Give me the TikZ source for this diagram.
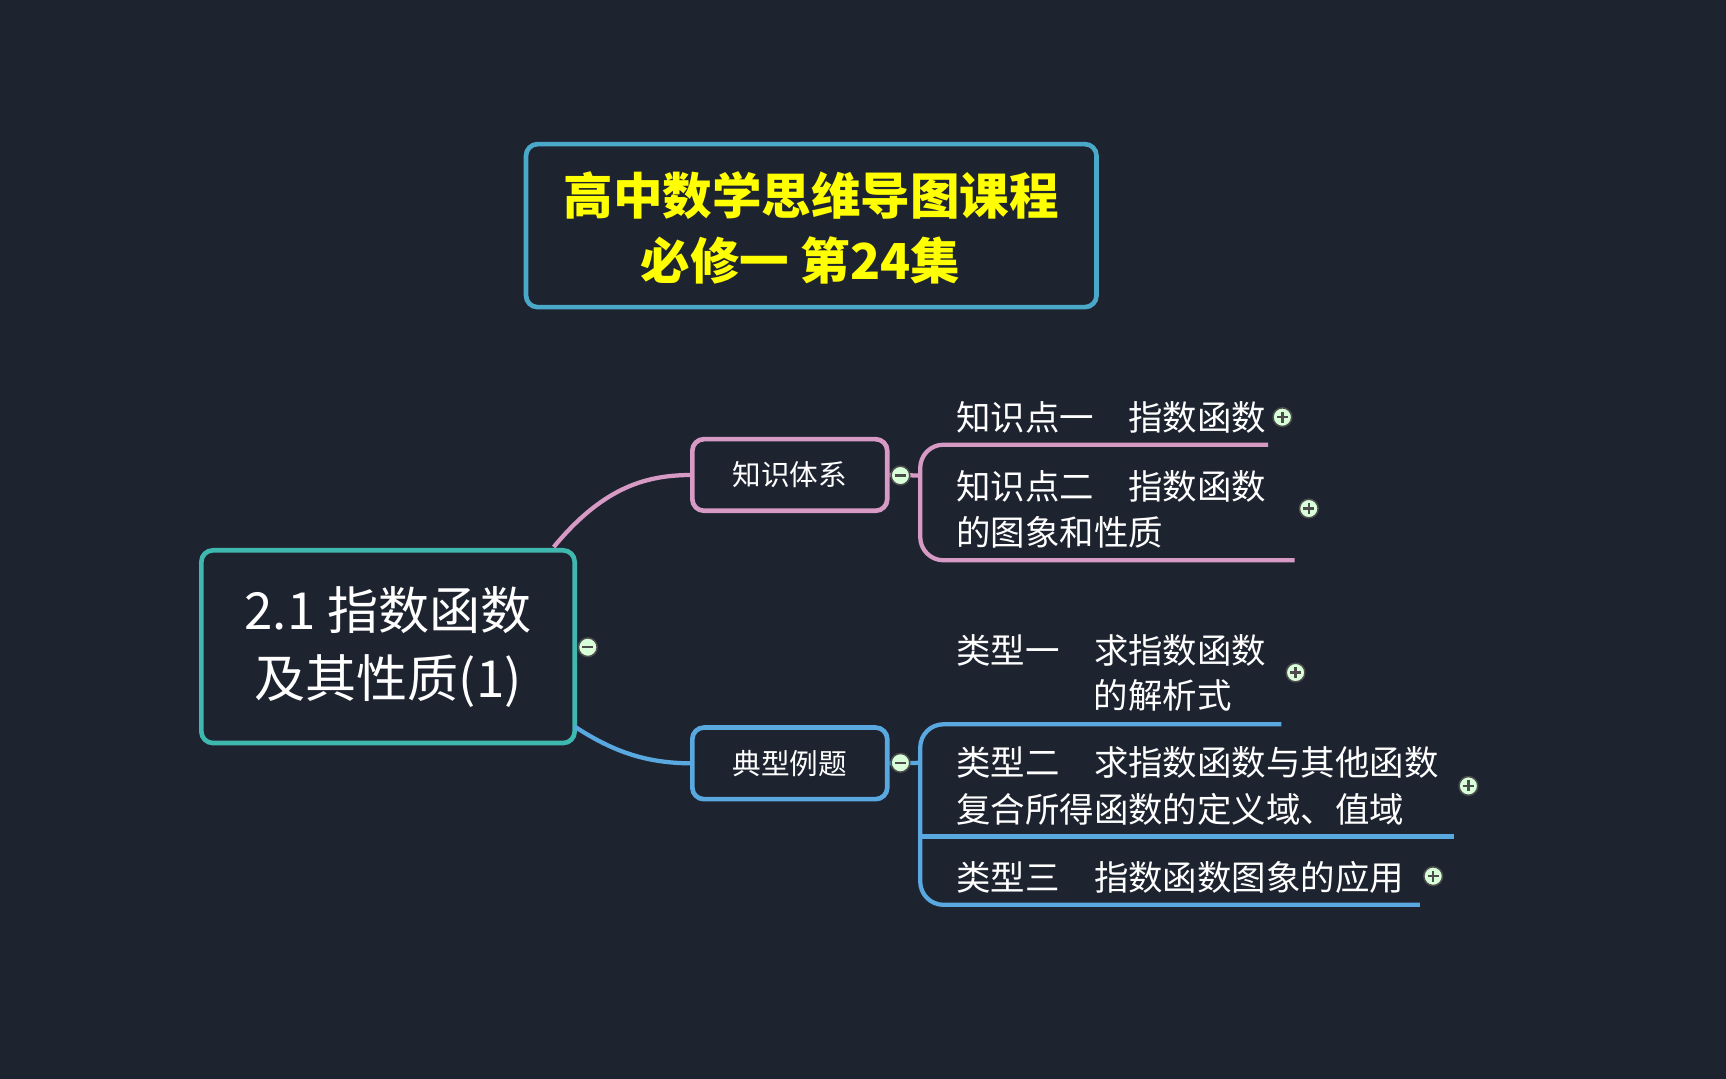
\documentclass[tikz,border=0pt]{standalone}
\usepackage{fontspec}
\setmainfont{Noto Sans CJK SC}
\begin{document}
\begin{tikzpicture}[x=0.01cm,y=-0.01cm,
  box/.style={draw,line width=1.2pt,rounded corners=3pt,inner sep=0pt},
  leaf/.style={text=white,font=\fontsize{8.9pt}{12pt}\selectfont,anchor=west,inner sep=0pt,align=left},
  tog/.style={circle,draw=black!70,fill=green!15!white,minimum size=0.17cm,inner sep=0pt,line width=0.4pt},
  pk/.style={draw=pinkc,line width=1.1pt,rounded corners=6pt},
  bl/.style={draw=bluec,line width=1.1pt,rounded corners=6pt}]
\definecolor{bg}{HTML}{1E2330}
\definecolor{cyanc}{HTML}{4AA8C8}
\definecolor{tealc}{HTML}{3FB8B0}
\definecolor{pinkc}{HTML}{D79AC4}
\definecolor{bluec}{HTML}{5AA8E0}
\definecolor{ttl}{HTML}{FFFF00}
\fill[bg] (0,0) rectangle (1568,980);
\useasboundingbox (0,0) rectangle (1568,980);
% title
\node[box,draw=cyanc,minimum width=5.18cm,minimum height=1.48cm] (title) at (737,205) {};
\node[text=ttl,font=\bfseries\fontsize{12.8pt}{17pt}\selectfont] (t1) at (737,178) {高中数学思维导图课程};
\node[text=ttl,font=\bfseries\fontsize{12.8pt}{17pt}\selectfont] (t2) at (727,237) {必修一 第24集};
% root
\node[box,draw=tealc,minimum width=3.39cm,minimum height=1.75cm,text=white,align=center,font=\fontsize{13.2pt}{17.5pt}\selectfont] (root) at (352.5,587.5) {2.1 指数函数\\及其性质(1)};
\node[box,draw=pinkc,minimum width=1.77cm,minimum height=0.65cm,text=white,font=\fontsize{7.4pt}{9pt}\selectfont] (k) at (717.5,431.5) {知识体系};
\node[box,draw=bluec,minimum width=1.77cm,minimum height=0.65cm,text=white,font=\fontsize{7.4pt}{9pt}\selectfont] (d) at (717.5,693.5) {典型例题};
\draw[pinkc,line width=1.1pt] (503,497) .. controls (550,440) and (590,432) .. (k.west);
\draw[bluec,line width=1.1pt] (522,660) .. controls (560,685) and (590,693) .. (d.west);
% pink branch
\coordinate (p1) at (1152,404);
\coordinate (p2) at (1176,509);
\draw[pk] (k.east) -- (836,432);
\draw[pk] (p1) -- (836,404) -- (836,509) -- (p2);
\node[leaf] (l1) at (868,379) {知识点一　指数函数};
\node[leaf] (l2) at (868,463) {知识点二　指数函数\\的图象和性质};
% blue branch
\coordinate (b1) at (1164,658);
\coordinate (b2) at (1321,760);
\coordinate (b3) at (1290,822);
\draw[bl] (d.east) -- (836,693);
\draw[bl] (b1) -- (836,658) -- (836,822) -- (b3);
\draw[bl] (836,760) -- (b2);
\node[leaf] (m1) at (868,591) {类型一　求指数函数};
\node[leaf] (m1b) at (993,632) {的解析式};
\node[leaf] (m2) at (868,714) {类型二　求指数函数与其他函数\\复合所得函数的定义域、值域};
\node[leaf] (m3) at (868,797) {类型三　指数函数图象的应用};
% toggles
\foreach \n/\x/\y in {r/534/588,a/818/432,b/818/693}{
  \node[tog] (tm\n) at (\x,\y) {};
  \draw[black!70,line width=0.6pt] ([xshift=-0.05cm]tm\n.center) -- ([xshift=0.05cm]tm\n.center);}
\foreach \n/\x/\y in {1/1165/379,2/1189/462,3/1177/611,4/1334/714,5/1302/796}{
  \node[tog] (tp\n) at (\x,\y) {};
  \draw[black!70,line width=0.6pt] ([xshift=-0.05cm]tp\n.center) -- ([xshift=0.05cm]tp\n.center);
  \draw[black!70,line width=0.6pt] ([yshift=-0.05cm]tp\n.center) -- ([yshift=0.05cm]tp\n.center);}
\end{tikzpicture}
\end{document}
